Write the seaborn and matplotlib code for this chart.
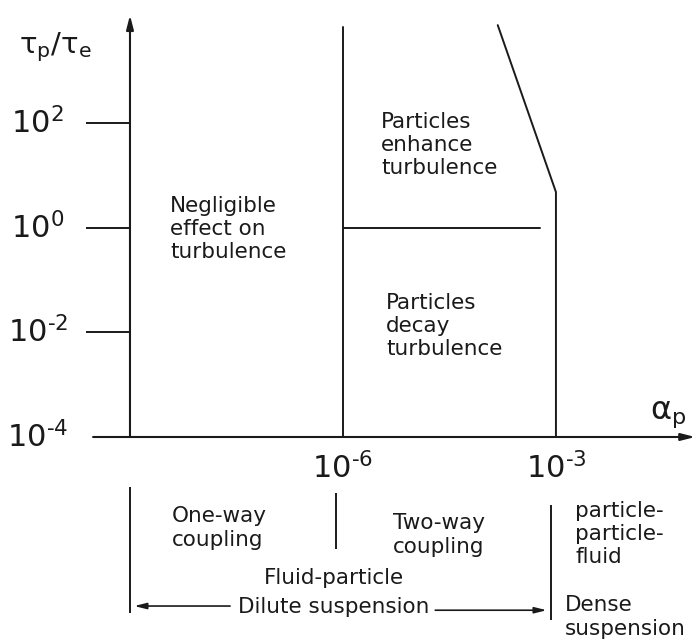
import matplotlib
matplotlib.use("Agg")
import matplotlib.pyplot as plt
import pandas as pd
import seaborn as sns

# regime boundaries in the (alpha_p, tau_p/tau_e) plane
one_way_alpha = [1e-6, 1e-6]
one_way_tau = [1e-4, 10 ** 3.83]
enhance_alpha = [1e-6, 10 ** -3.23]
enhance_tau = [1.0, 1.0]
dense_alpha = [1e-3, 1e-3, 10 ** -3.82]
dense_tau = [1e-4, 10 ** 0.68, 10 ** 3.87]

# axis ticks
y_ticks = [1e2, 1e0, 1e-2, 1e-4]
y_tick_labels = [r"$10^{2}$", r"$10^{0}$", r"$10^{\text{-}2}$", r"$10^{\text{-}4}$"]
x_ticks = [1e-6, 1e-3]
x_tick_labels = [r"$10^{\text{-}6}$", r"$10^{\text{-}3}$"]

# separators of the coupling scheme below the axis
sep_alpha = [1e-9, 10 ** -6.1, 10 ** -3.07]
sep_top = [10 ** -4.96, 10 ** -5.07, 10 ** -5.30]
sep_bottom = [10 ** -7.36, 10 ** -6.14, 10 ** -7.50]

region_labels = ["Negligible\neffect on\nturbulence",
                 "Particles\nenhance\nturbulence",
                 "Particles\ndecay\nturbulence"]
coupling_labels = ["One-way\ncoupling", "Two-way\ncoupling",
                   "particle-\nparticle-\nfluid"]

INK = "#1a1a1a"

sns.set_theme(style="white")
plt.rcParams["font.family"] = ["DejaVu Sans"]
plt.rcParams["mathtext.fontset"] = "dejavusans"

fig = plt.figure(figsize=(6.98, 6.40), dpi=100)
ax = fig.add_axes([0, 0, 1, 1])
ax.set_xscale("log")
ax.set_yscale("log")
ax.set_xlim(10 ** -10.831, 10 ** -0.999)
ax.set_ylim(10 ** -7.879, 10 ** 4.350)
ax.axis("off")

segs = pd.DataFrame({
    "alpha": one_way_alpha + enhance_alpha + dense_alpha,
    "tau": one_way_tau + enhance_tau + dense_tau,
    "seg": ["one"] * 2 + ["enh"] * 2 + ["dense"] * 3,
})
sns.lineplot(data=segs, x="alpha", y="tau", units="seg", estimator=None,
             sort=False, color=INK, lw=1.4, ax=ax, legend=False)

# axes with arrows
arrow = dict(arrowstyle="-|>,head_length=0.7,head_width=0.18", color=INK,
             lw=1.5, shrinkA=0, shrinkB=0)
ax.annotate("", xy=(1e-9, 10 ** 4.06), xytext=(1e-9, y_ticks[-1]),
            arrowprops=arrow)
ax.annotate("", xy=(10 ** -1.04, y_ticks[-1]), xytext=(10 ** -9.52, y_ticks[-1]),
            arrowprops=arrow)

# y ticks
ax.hlines(y_ticks[:-1], 10 ** -9.62, 1e-9, color=INK, lw=1.4)
for t, lab in zip(y_ticks, y_tick_labels):
    ax.text(10 ** -10.3, t, lab, fontsize=22, color=INK, ha="center",
            va="center")
for t, lab in zip(x_ticks, x_tick_labels):
    ax.text(t, 10 ** -4.6, lab, fontsize=22, color=INK, ha="center",
            va="center")

ax.text(55 / 698, 1 - 47 / 640, r"$\mathrm{\tau_p/\tau_e}$",
        transform=ax.transAxes, fontsize=21, color=INK, ha="center",
        va="center")
ax.text(650 / 698, 1 - 414 / 640, r"$\mathrm{\alpha_p}$",
        transform=ax.transAxes, fontsize=23, color=INK, ha="left",
        va="center")

# regime labels
body = dict(fontsize=15.5, color=INK, transform=ax.transAxes, va="center",
            linespacing=1.2)
ax.text(170 / 698, 1 - 229 / 640, region_labels[0], ha="left", **body)
ax.text(381 / 698, 1 - 145 / 640, region_labels[1], ha="left", **body)
ax.text(386 / 698, 1 - 326 / 640, region_labels[2], ha="left", **body)

# coupling scheme below the axis
ax.vlines(sep_alpha, sep_bottom, sep_top, color=INK, lw=1.4)
ax.text(172 / 698, 1 - 528 / 640, coupling_labels[0], ha="left", **body)
ax.text(439 / 698, 1 - 535 / 640, coupling_labels[1], ha="center",
        multialignment="center", **body)
ax.text(575 / 698, 1 - 534 / 640, coupling_labels[2], ha="left", **body)
ax.text(334 / 698, 1 - 578 / 640, "Fluid-particle", ha="center", **body)
ax.text(334 / 698, 1 - 607 / 640, "Dilute suspension", ha="center", **body)
ax.text(565 / 698, 1 - 617 / 640, "Dense\nsuspension", ha="left", **body)

small_arrow = dict(arrowstyle="-|>,head_length=0.6,head_width=0.15",
                   color=INK, lw=1.2, shrinkA=0, shrinkB=0)
ax.annotate("", xy=(10 ** -8.94, 10 ** -7.23), xytext=(10 ** -7.59, 10 ** -7.23),
            arrowprops=small_arrow)
ax.annotate("", xy=(10 ** -3.13, 10 ** -7.31), xytext=(10 ** -4.70, 10 ** -7.31),
            arrowprops=small_arrow)

fig.savefig("out.png", dpi=100)
